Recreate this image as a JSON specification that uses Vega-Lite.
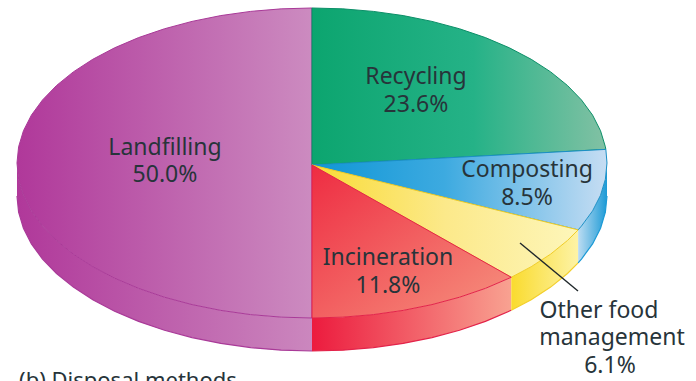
{
  "$schema": "https://vega.github.io/schema/vega-lite/v6.json",
  "width": 696,
  "height": 381,
  "padding": 0,
  "autosize": "none",
  "background": "white",
  "view": {"stroke": null},
  "config": {"line": {"clip": false}},
  "datasets": {
    "faces": [
      {"slice":"Landfilling","x":0,"y":-0.013},{"slice":"Landfilling","x":0,"y":1},{"slice":"Landfilling","x":-0.1045,"y":0.9945},{"slice":"Landfilling","x":-0.2079,"y":0.9781},{"slice":"Landfilling","x":-0.309,"y":0.9511},{"slice":"Landfilling","x":-0.4067,"y":0.9135},{"slice":"Landfilling","x":-0.5,"y":0.866},{"slice":"Landfilling","x":-0.5878,"y":0.809},{"slice":"Landfilling","x":-0.6691,"y":0.7431},{"slice":"Landfilling","x":-0.7431,"y":0.6691},{"slice":"Landfilling","x":-0.809,"y":0.5878},{"slice":"Landfilling","x":-0.866,"y":0.5},{"slice":"Landfilling","x":-0.9135,"y":0.4067},{"slice":"Landfilling","x":-0.9511,"y":0.309},{"slice":"Landfilling","x":-0.9781,"y":0.2079},{"slice":"Landfilling","x":-0.9945,"y":0.1045},{"slice":"Landfilling","x":-1,"y":0},{"slice":"Landfilling","x":-0.9945,"y":-0.1045},{"slice":"Landfilling","x":-0.9781,"y":-0.2079},{"slice":"Landfilling","x":-0.9511,"y":-0.309},{"slice":"Landfilling","x":-0.9135,"y":-0.4067},{"slice":"Landfilling","x":-0.866,"y":-0.5},{"slice":"Landfilling","x":-0.809,"y":-0.5878},{"slice":"Landfilling","x":-0.7431,"y":-0.6691},{"slice":"Landfilling","x":-0.6691,"y":-0.7431},{"slice":"Landfilling","x":-0.5878,"y":-0.809},{"slice":"Landfilling","x":-0.5,"y":-0.866},{"slice":"Landfilling","x":-0.4067,"y":-0.9135},{"slice":"Landfilling","x":-0.309,"y":-0.9511},{"slice":"Landfilling","x":-0.2079,"y":-0.9781},{"slice":"Landfilling","x":-0.1045,"y":-0.9945},{"slice":"Landfilling","x":0,"y":-1},{"slice":"Landfilling","x":0,"y":-0.013},
      {"slice":"Recycling","x":0,"y":-0.013},{"slice":"Recycling","x":0,"y":1},{"slice":"Recycling","x":0.1045,"y":0.9945},{"slice":"Recycling","x":0.2079,"y":0.9781},{"slice":"Recycling","x":0.309,"y":0.9511},{"slice":"Recycling","x":0.4067,"y":0.9135},{"slice":"Recycling","x":0.5,"y":0.866},{"slice":"Recycling","x":0.5878,"y":0.809},{"slice":"Recycling","x":0.6691,"y":0.7431},{"slice":"Recycling","x":0.7431,"y":0.6691},{"slice":"Recycling","x":0.809,"y":0.5878},{"slice":"Recycling","x":0.866,"y":0.5},{"slice":"Recycling","x":0.9135,"y":0.4067},{"slice":"Recycling","x":0.9511,"y":0.309},{"slice":"Recycling","x":0.9781,"y":0.2079},{"slice":"Recycling","x":0.9945,"y":0.1045},{"slice":"Recycling","x":0.9961,"y":0.0878},{"slice":"Recycling","x":0,"y":-0.013},
      {"slice":"Composting","x":0,"y":-0.013},{"slice":"Composting","x":0.9961,"y":0.0878},{"slice":"Composting","x":1,"y":0},{"slice":"Composting","x":0.9945,"y":-0.1045},{"slice":"Composting","x":0.9781,"y":-0.2079},{"slice":"Composting","x":0.9511,"y":-0.309},{"slice":"Composting","x":0.9135,"y":-0.4067},{"slice":"Composting","x":0.9021,"y":-0.4314},{"slice":"Composting","x":0,"y":-0.013},
      {"slice":"Other","x":0,"y":-0.013},{"slice":"Other","x":0.9021,"y":-0.4314},{"slice":"Other","x":0.866,"y":-0.5},{"slice":"Other","x":0.809,"y":-0.5878},{"slice":"Other","x":0.7431,"y":-0.6691},{"slice":"Other","x":0.6755,"y":-0.7373},{"slice":"Other","x":0,"y":-0.013},
      {"slice":"Incineration","x":0,"y":-0.013},{"slice":"Incineration","x":0.6755,"y":-0.7373},{"slice":"Incineration","x":0.5878,"y":-0.809},{"slice":"Incineration","x":0.5,"y":-0.866},{"slice":"Incineration","x":0.4067,"y":-0.9135},{"slice":"Incineration","x":0.309,"y":-0.9511},{"slice":"Incineration","x":0.2079,"y":-0.9781},{"slice":"Incineration","x":0.1045,"y":-0.9945},{"slice":"Incineration","x":0,"y":-1},{"slice":"Incineration","x":0,"y":-0.013}
    ],
    "rims": [
      {"slice":"Landfilling","x":-1,"y":0,"y2":-0.213},{"slice":"Landfilling","x":-0.9945,"y":-0.1045,"y2":-0.3175},{"slice":"Landfilling","x":-0.9781,"y":-0.2079,"y2":-0.4209},{"slice":"Landfilling","x":-0.9511,"y":-0.309,"y2":-0.522},{"slice":"Landfilling","x":-0.9135,"y":-0.4067,"y2":-0.6197},{"slice":"Landfilling","x":-0.866,"y":-0.5,"y2":-0.713},{"slice":"Landfilling","x":-0.809,"y":-0.5878,"y2":-0.8008},{"slice":"Landfilling","x":-0.7431,"y":-0.6691,"y2":-0.8821},{"slice":"Landfilling","x":-0.6691,"y":-0.7431,"y2":-0.9561},{"slice":"Landfilling","x":-0.5878,"y":-0.809,"y2":-1.022},{"slice":"Landfilling","x":-0.5,"y":-0.866,"y2":-1.079},{"slice":"Landfilling","x":-0.4067,"y":-0.9135,"y2":-1.1265},{"slice":"Landfilling","x":-0.309,"y":-0.9511,"y2":-1.1641},{"slice":"Landfilling","x":-0.2079,"y":-0.9781,"y2":-1.1911},{"slice":"Landfilling","x":-0.1045,"y":-0.9945,"y2":-1.2075},{"slice":"Landfilling","x":0,"y":-1,"y2":-1.213},
      {"slice":"Incineration","x":0,"y":-1,"y2":-1.213},{"slice":"Incineration","x":0.1045,"y":-0.9945,"y2":-1.2075},{"slice":"Incineration","x":0.2079,"y":-0.9781,"y2":-1.1911},{"slice":"Incineration","x":0.309,"y":-0.9511,"y2":-1.1641},{"slice":"Incineration","x":0.4067,"y":-0.9135,"y2":-1.1265},{"slice":"Incineration","x":0.5,"y":-0.866,"y2":-1.079},{"slice":"Incineration","x":0.5878,"y":-0.809,"y2":-1.022},{"slice":"Incineration","x":0.6755,"y":-0.7373,"y2":-0.9503},
      {"slice":"Other","x":0.6755,"y":-0.7373,"y2":-0.9503},{"slice":"Other","x":0.7431,"y":-0.6691,"y2":-0.8821},{"slice":"Other","x":0.809,"y":-0.5878,"y2":-0.8008},{"slice":"Other","x":0.866,"y":-0.5,"y2":-0.713},{"slice":"Other","x":0.9021,"y":-0.4314,"y2":-0.6444},
      {"slice":"Composting","x":0.9021,"y":-0.4314,"y2":-0.6444},{"slice":"Composting","x":0.9135,"y":-0.4067,"y2":-0.6197},{"slice":"Composting","x":0.9511,"y":-0.309,"y2":-0.522},{"slice":"Composting","x":0.9781,"y":-0.2079,"y2":-0.4209},{"slice":"Composting","x":0.9945,"y":-0.1045,"y2":-0.3175},{"slice":"Composting","x":1,"y":0,"y2":-0.213}
    ],
    "labels": [
      {"text":"Recycling","x":0.3525,"y":0.5548},{"text":"23.6%","x":0.3525,"y":0.3742},
      {"text":"Landfilling","x":-0.4983,"y":0.0968},{"text":"50.0%","x":-0.4983,"y":-0.0774},
      {"text":"Composting","x":0.7288,"y":-0.0452},{"text":"8.5%","x":0.7288,"y":-0.2258},
      {"text":"Incineration","x":0.2576,"y":-0.6129},{"text":"11.8%","x":0.2576,"y":-0.7935},
      {"text":"Other food","x":0.9729,"y":-0.9548},{"text":"management","x":1.0169,"y":-1.129},{"text":"6.1%","x":1.0102,"y":-1.3097}
    ]
  },
  "encoding": {
    "x": {"field":"x","type":"quantitative","axis":null,"scale":{"domain":[-1.0576,1.3017],"nice":false,"zero":false}},
    "y": {"field":"y","type":"quantitative","axis":null,"scale":{"domain":[-1.4065,1.0516],"nice":false,"zero":false}}
  },
  "layer": [
    {
      "data":{"name":"rims"},"transform":[{"filter":"datum.slice==='Landfilling'"}],
      "mark":{"type":"area","fill":{"gradient":"linear","stops":[{"offset":0,"color":"#B0389A"},{"offset":1,"color":"#CB87BE"}]}},
      "encoding":{"y2":{"field":"y2"}}
    },
    {
      "data":{"name":"rims"},"transform":[{"filter":"datum.slice==='Incineration'"}],
      "mark":{"type":"area","fill":{"gradient":"linear","stops":[{"offset":0,"color":"#EC1B3E"},{"offset":1,"color":"#F8A291"}]}},
      "encoding":{"y2":{"field":"y2"}}
    },
    {
      "data":{"name":"rims"},"transform":[{"filter":"datum.slice==='Other'"}],
      "mark":{"type":"area","fill":{"gradient":"linear","stops":[{"offset":0,"color":"#FADB2E"},{"offset":1,"color":"#FDF3A6"}]}},
      "encoding":{"y2":{"field":"y2"}}
    },
    {
      "data":{"name":"rims"},"transform":[{"filter":"datum.slice==='Composting'"}],
      "mark":{"type":"area","fill":{"gradient":"linear","stops":[{"offset":0,"color":"#BCDCF2"},{"offset":1,"color":"#1B9AD6"}]}},
      "encoding":{"y2":{"field":"y2"}}
    },
    {
      "data":{"name":"rims"},
      "mark":{"type":"line","strokeWidth":1.2},
      "encoding":{
        "y":{"field":"y2","type":"quantitative"},
        "color":{"field":"slice","legend":null,"scale":{"domain":["Landfilling","Incineration","Other","Composting"],"range":["#A93A98","#E3234A","#F3CF2C","#1B9AD6"]}}
      }
    },
    {
      "data":{"name":"faces"},"transform":[{"filter":"datum.slice==='Landfilling'"}],
      "mark":{"type":"line","stroke":"#A93A98","strokeWidth":1,"fill":{"gradient":"linear","stops":[{"offset":0,"color":"#B0389A"},{"offset":1,"color":"#CC8BC0"}]}},
      "encoding":{"order":{"value":null}}
    },
    {
      "data":{"name":"faces"},"transform":[{"filter":"datum.slice==='Recycling'"}],
      "mark":{"type":"line","stroke":"#0C8F68","strokeWidth":1,"fill":{"gradient":"linear","stops":[{"offset":0,"color":"#0CA56F"},{"offset":0.55,"color":"#25B287"},{"offset":1,"color":"#82C1A4"}]}},
      "encoding":{"order":{"value":null}}
    },
    {
      "data":{"name":"faces"},"transform":[{"filter":"datum.slice==='Composting'"}],
      "mark":{"type":"line","stroke":"#1B8FC6","strokeWidth":1,"fill":{"gradient":"linear","stops":[{"offset":0,"color":"#0F96D6"},{"offset":0.45,"color":"#3DAAE0"},{"offset":1,"color":"#C6DDF3"}]}},
      "encoding":{"order":{"value":null}}
    },
    {
      "data":{"name":"faces"},"transform":[{"filter":"datum.slice==='Other'"}],
      "mark":{"type":"line","stroke":"#F0CC25","strokeWidth":1,"fill":{"gradient":"linear","stops":[{"offset":0,"color":"#F9DB35"},{"offset":0.5,"color":"#FCE98A"},{"offset":1,"color":"#FDF6BA"}]}},
      "encoding":{"order":{"value":null}}
    },
    {
      "data":{"name":"faces"},"transform":[{"filter":"datum.slice==='Incineration'"}],
      "mark":{"type":"line","stroke":"#E3234A","strokeWidth":1,"fill":{"gradient":"linear","x1":0,"y1":0,"x2":1,"y2":1,"stops":[{"offset":0,"color":"#EE2C42"},{"offset":1,"color":"#F6937F"}]}},
      "encoding":{"order":{"value":null}}
    },
    {
      "data":{"values":[{"x":0.7051,"y":-0.5161,"x2":0.9017,"y2":-0.8258}]},
      "mark":{"type":"rule","color":"#20282B","strokeWidth":1.4},
      "encoding":{"x2":{"field":"x2"},"y2":{"field":"y2"}}
    },
    {
      "data":{"name":"labels"},
      "mark":{"type":"text","font":"Noto Sans","fontSize":23,"align":"center","baseline":"middle","color":"#27343A"},
      "encoding":{"text":{"field":"text"}}
    },
    {
      "data":{"values":[{"text":"(b) Disposal methods","x":-0.993,"y":-1.4065}]},
      "mark":{"type":"text","font":"Noto Sans","fontSize":22,"align":"left","baseline":"middle","color":"#27343A"},
      "encoding":{"text":{"field":"text"}}
    }
  ]
}
